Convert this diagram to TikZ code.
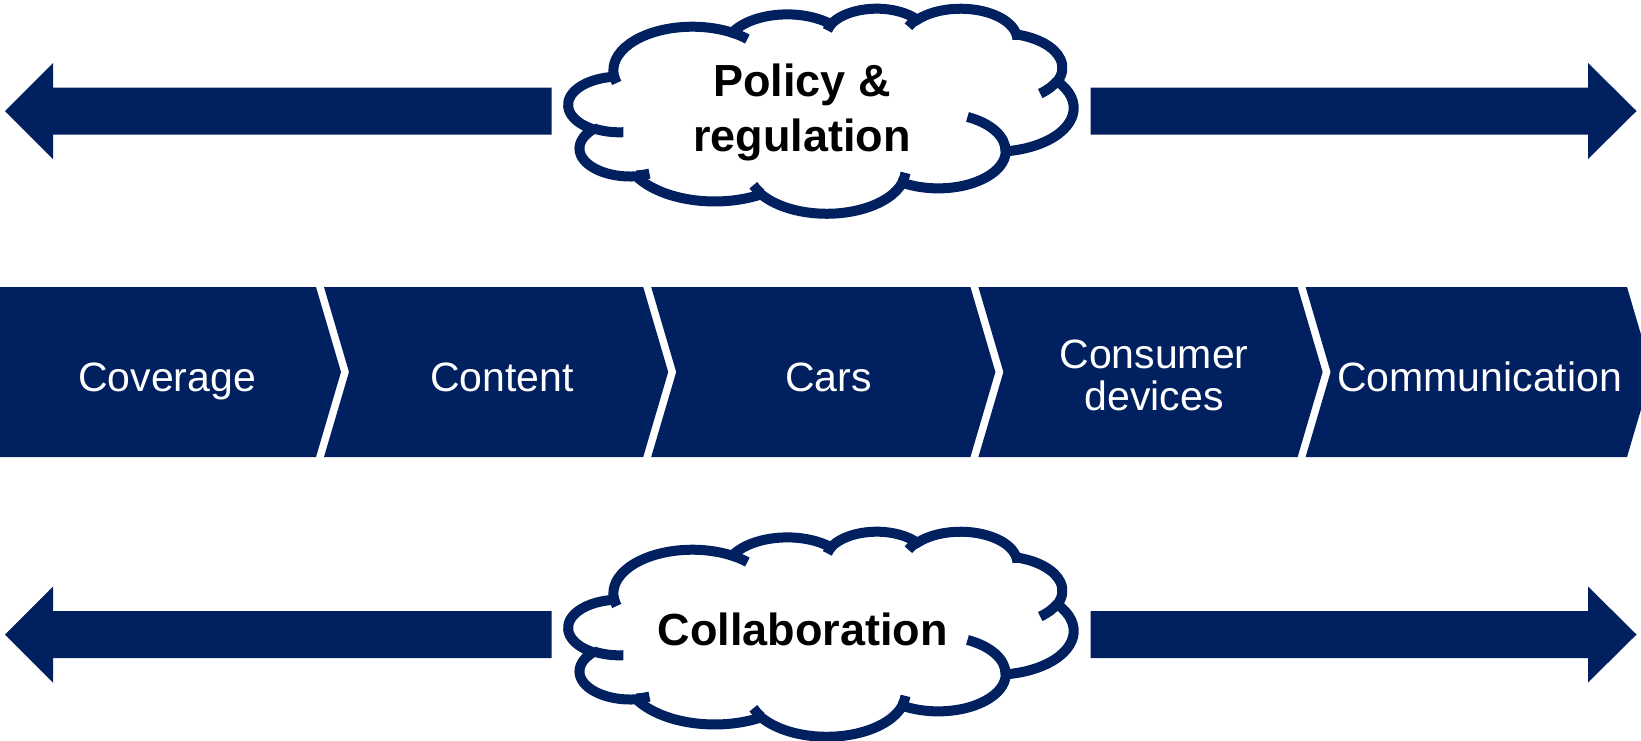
\documentclass[tikz,border=0pt]{standalone}
\usepackage{fontspec}
\setmainfont{Liberation Sans}
\definecolor{navy}{RGB}{0,32,96}
\tikzset{
  cloudarc/.style n args={4}{insert path={arc[x radius=#1pt, y radius=#2pt,
     start angle={atan2((#1)*sin(#3),(#2)*cos(#3))},
     delta angle={mod(atan2((#1)*sin((#3)+(#4)),(#2)*cos((#3)+(#4)))-atan2((#1)*sin(#3),(#2)*cos(#3))+720,360)}]}},
  cloudline/.style={draw=navy, line width=5pt},
  chev/.style={fill=navy},
  blockarrow/.style={fill=navy},
  lbl/.style={text=white, inner sep=0pt, font=\fontsize{20.5pt}{21.2pt}\selectfont},
  cldlbl/.style={text=black, inner sep=0pt, font=\fontsize{22.5pt}{27.5pt}\selectfont\bfseries},
}
\newcommand\drawcloudpaths{%
  \draw[cloudline, fill=white] (3.900pt,14.370pt)
    [cloudarc={6.753}{9.190}{-190.487}{123.781}]
    [cloudarc={5.333}{7.267}{-144.102}{89.945}]
    [cloudarc={4.365}{5.945}{-145.808}{99.723}]
    [cloudarc={4.857}{6.595}{-130.986}{117.242}]
    [cloudarc={5.333}{7.273}{-78.709}{109.027}]
    [cloudarc={6.775}{9.220}{-46.267}{130.269}]
    [cloudarc={5.785}{7.867}{0.625}{114.033}]
    [cloudarc={6.752}{9.215}{22.452}{115.173}]
    [cloudarc={7.720}{10.543}{66.243}{75.711}]
    [cloudarc={4.360}{5.918}{-274.942}{146.736}]
    [cloudarc={4.345}{5.945}{-246.829}{152.519}] -- cycle;
  \draw[cloudline]
    (4.693pt,26.177pt) [cloudarc={4.345}{5.945}{86.742}{26.430}]
    (6.928pt,34.899pt) [cloudarc={4.360}{5.918}{73.610}{11.447}]
    (16.478pt,39.090pt) [cloudarc={6.752}{9.215}{137.624}{14.081}]
    (28.827pt,34.751pt) [cloudarc={6.752}{9.215}{6.453}{15.998}]
    (34.129pt,22.954pt) [cloudarc={5.785}{7.867}{-70.292}{70.917}]
    (41.798pt,15.354pt) [cloudarc={5.333}{7.273}{30.318}{27.752}]
    (38.324pt,5.426pt) [cloudarc={4.857}{6.595}{-13.744}{14.859}]
    (29.078pt,3.952pt) [cloudarc={4.857}{6.595}{-149.181}{18.195}]
    (22.141pt,4.720pt) [cloudarc={4.365}{5.945}{-163.494}{17.686}]
    (14.000pt,5.192pt) [cloudarc={6.753}{9.190}{-66.707}{12.319}]
    (4.127pt,15.789pt) [cloudarc={6.753}{9.190}{157.654}{11.858}];
}
\begin{document}
\begin{tikzpicture}[x=0.5pt, y=-0.5pt]
\useasboundingbox (0,0) rectangle (1641,740);
\fill[white] (0,0) rectangle (1641,740);
\clip (0,0) rectangle (1641,740);

% block arrows, top row
\path[blockarrow] (5,111) -- (53,63) -- (53,87.5) -- (551.5,87.5) -- (551.5,134.5) -- (53,134.5) -- (53,159) -- cycle;
\path[blockarrow] (1636.5,111) -- (1588,63) -- (1588,87.5) -- (1090.5,87.5) -- (1090.5,134.5) -- (1588,134.5) -- (1588,159) -- cycle;
% block arrows, bottom row
\path[blockarrow] (5,634.5) -- (53,586.5) -- (53,611) -- (551.5,611) -- (551.5,658) -- (53,658) -- (53,682.5) -- cycle;
\path[blockarrow] (1636.5,634.5) -- (1588,586.5) -- (1588,611) -- (1090.5,611) -- (1090.5,658) -- (1588,658) -- (1588,682.5) -- cycle;

% clouds
\begin{scope}[shift={(568.5,8)}, xscale=5.845, yscale=-2.3727]
  \drawcloudpaths
\end{scope}
\begin{scope}[shift={(568.5,531)}, xscale=5.845, yscale=-2.3727]
  \drawcloudpaths
\end{scope}
\node[cldlbl, anchor=base] (policy) at (802,96.7) {\begin{tabular}[t]{@{}c@{}}Policy \&\\regulation\end{tabular}};
\node[cldlbl, anchor=base] (collab) at (802.5,645.7) {Collaboration};

% chevrons
\path[chev] (0,287) -- (316,287) -- (341,372) -- (316,457) -- (0,457) -- cycle;
\path[chev] (324,287) -- (643.2,287) -- (668.2,372) -- (643.2,457) -- (324,457) -- (349,372) -- cycle;
\path[chev] (651.2,287) -- (970.4,287) -- (995.4,372) -- (970.4,457) -- (651.2,457) -- (676.2,372) -- cycle;
\path[chev] (978.4,287) -- (1297.6,287) -- (1322.6,372) -- (1297.6,457) -- (978.4,457) -- (1003.4,372) -- cycle;
\path[chev] (1305.6,287) -- (1627,287) -- (1652,372) -- (1627,457) -- (1305.6,457) -- (1330.6,372) -- cycle;

\node[lbl, anchor=base] (coverage) at (167,391) {Coverage};
\node[lbl, anchor=base] (content) at (502,391) {Content};
\node[lbl, anchor=base] (cars) at (828.3,391) {Cars};
\node[lbl, anchor=base] (consumer) at (1154,368.3) {\begin{tabular}[t]{@{}c@{}}Consumer\\devices\end{tabular}};
\node[lbl, anchor=base] (communication) at (1479.5,391) {Communication};
\end{tikzpicture}
\end{document}
